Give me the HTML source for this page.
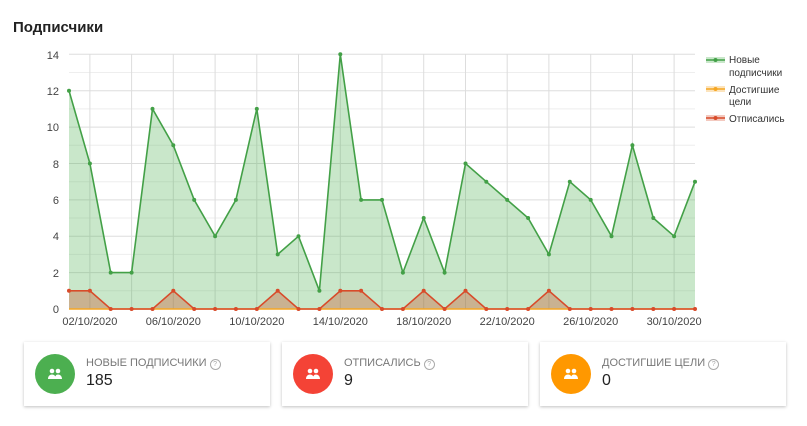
<!DOCTYPE html>
<html><head><meta charset="utf-8"><style>
body{margin:0;width:807px;height:426px;background:#fff;font-family:"Liberation Sans",sans-serif;overflow:hidden;position:relative}
.t{position:absolute;left:13px;top:19px;font-size:15px;font-weight:bold;color:#222}
.card{position:absolute;top:342px;width:246px;height:64px;background:#fff;box-shadow:0 1px 3px rgba(0,0,0,.25)}
.c{position:absolute;left:11px;top:12px;width:40px;height:40px;border-radius:50%}
.c svg{position:absolute;left:12px;top:12px}
.l{position:absolute;left:62px;top:15px;font-size:11px;color:#777}
.l span{display:inline-block;width:9px;height:9px;border:1px solid #aaa;border-radius:50%;font-size:7px;text-align:center;line-height:9px;margin-left:3px;color:#aaa;vertical-align:0}
.v{position:absolute;left:62px;top:30px;font-size:16px;color:#222}
</style></head><body>
<div class="t">Подписчики</div>
<svg width="807" height="330" style="position:absolute;left:0;top:0" font-family="Liberation Sans, sans-serif">
<g stroke="#eee" stroke-width="1">
<line x1="69" x2="695" y1="290.8" y2="290.8"/><line x1="69" x2="695" y1="254.4" y2="254.4"/><line x1="69" x2="695" y1="218" y2="218"/><line x1="69" x2="695" y1="181.7" y2="181.7"/><line x1="69" x2="695" y1="145.3" y2="145.3"/><line x1="69" x2="695" y1="108.9" y2="108.9"/><line x1="69" x2="695" y1="72.5" y2="72.5"/>
</g>
<g stroke="#ddd" stroke-width="1">
<line x1="69" x2="695" y1="272.6" y2="272.6"/><line x1="69" x2="695" y1="236.2" y2="236.2"/><line x1="69" x2="695" y1="199.9" y2="199.9"/><line x1="69" x2="695" y1="163.5" y2="163.5"/><line x1="69" x2="695" y1="127.1" y2="127.1"/><line x1="69" x2="695" y1="90.7" y2="90.7"/><line x1="69" x2="695" y1="54.3" y2="54.3"/>
<line x1="89.9" x2="89.9" y1="54" y2="309"/><line x1="131.6" x2="131.6" y1="54" y2="309"/><line x1="173.3" x2="173.3" y1="54" y2="309"/><line x1="215.1" x2="215.1" y1="54" y2="309"/><line x1="256.8" x2="256.8" y1="54" y2="309"/><line x1="298.5" x2="298.5" y1="54" y2="309"/><line x1="340.3" x2="340.3" y1="54" y2="309"/><line x1="382" x2="382" y1="54" y2="309"/><line x1="423.7" x2="423.7" y1="54" y2="309"/><line x1="465.5" x2="465.5" y1="54" y2="309"/><line x1="507.2" x2="507.2" y1="54" y2="309"/><line x1="548.9" x2="548.9" y1="54" y2="309"/><line x1="590.7" x2="590.7" y1="54" y2="309"/><line x1="632.4" x2="632.4" y1="54" y2="309"/><line x1="674.1" x2="674.1" y1="54" y2="309"/>
</g>
<polygon fill="rgba(76,175,80,0.3)" points="69,309 69,90.7 89.9,163.5 110.7,272.6 131.6,272.6 152.5,108.9 173.3,145.3 194.2,199.9 215.1,236.2 235.9,199.9 256.8,108.9 277.7,254.4 298.5,236.2 319.4,290.8 340.3,54.3 361.1,199.9 382,199.9 402.9,272.6 423.7,218 444.6,272.6 465.5,163.5 486.3,181.7 507.2,199.9 528.1,218 548.9,254.4 569.8,181.7 590.7,199.9 611.5,236.2 632.4,145.3 653.3,218 674.1,236.2 695,181.7 695,309"/>
<polygon fill="rgba(200,80,40,0.35)" points="69,309 69,290.8 89.9,290.8 110.7,309 152.5,309 173.3,290.8 194.2,309 256.8,309 277.7,290.8 298.5,309 319.4,309 340.3,290.8 361.1,290.8 382,309 402.9,309 423.7,290.8 444.6,309 465.5,290.8 486.3,309 528.1,309 548.9,290.8 569.8,309"/>
<polyline fill="none" stroke="#43a047" stroke-width="1.6" points="69,90.7 89.9,163.5 110.7,272.6 131.6,272.6 152.5,108.9 173.3,145.3 194.2,199.9 215.1,236.2 235.9,199.9 256.8,108.9 277.7,254.4 298.5,236.2 319.4,290.8 340.3,54.3 361.1,199.9 382,199.9 402.9,272.6 423.7,218 444.6,272.6 465.5,163.5 486.3,181.7 507.2,199.9 528.1,218 548.9,254.4 569.8,181.7 590.7,199.9 611.5,236.2 632.4,145.3 653.3,218 674.1,236.2 695,181.7"/>
<line x1="69" x2="695" y1="309" y2="309" stroke="#f5a623" stroke-width="1.6"/>
<polyline fill="none" stroke="#d84b2a" stroke-width="1.6" points="69,290.8 89.9,290.8 110.7,309 152.5,309 173.3,290.8 194.2,309 256.8,309 277.7,290.8 298.5,309 319.4,309 340.3,290.8 361.1,290.8 382,309 402.9,309 423.7,290.8 444.6,309 465.5,290.8 486.3,309 528.1,309 548.9,290.8 569.8,309 695,309"/>
<g fill="#43a047">
<circle cx="69" cy="90.7" r="2"/><circle cx="89.9" cy="163.5" r="2"/><circle cx="110.7" cy="272.6" r="2"/><circle cx="131.6" cy="272.6" r="2"/><circle cx="152.5" cy="108.9" r="2"/><circle cx="173.3" cy="145.3" r="2"/><circle cx="194.2" cy="199.9" r="2"/><circle cx="215.1" cy="236.2" r="2"/><circle cx="235.9" cy="199.9" r="2"/><circle cx="256.8" cy="108.9" r="2"/><circle cx="277.7" cy="254.4" r="2"/><circle cx="298.5" cy="236.2" r="2"/><circle cx="319.4" cy="290.8" r="2"/><circle cx="340.3" cy="54.3" r="2"/><circle cx="361.1" cy="199.9" r="2"/><circle cx="382" cy="199.9" r="2"/><circle cx="402.9" cy="272.6" r="2"/><circle cx="423.7" cy="218" r="2"/><circle cx="444.6" cy="272.6" r="2"/><circle cx="465.5" cy="163.5" r="2"/><circle cx="486.3" cy="181.7" r="2"/><circle cx="507.2" cy="199.9" r="2"/><circle cx="528.1" cy="218" r="2"/><circle cx="548.9" cy="254.4" r="2"/><circle cx="569.8" cy="181.7" r="2"/><circle cx="590.7" cy="199.9" r="2"/><circle cx="611.5" cy="236.2" r="2"/><circle cx="632.4" cy="145.3" r="2"/><circle cx="653.3" cy="218" r="2"/><circle cx="674.1" cy="236.2" r="2"/><circle cx="695" cy="181.7" r="2"/>
</g>
<g fill="#d84b2a">
<circle cx="69" cy="290.8" r="2"/><circle cx="89.9" cy="290.8" r="2"/><circle cx="110.7" cy="309" r="2"/><circle cx="131.6" cy="309" r="2"/><circle cx="152.5" cy="309" r="2"/><circle cx="173.3" cy="290.8" r="2"/><circle cx="194.2" cy="309" r="2"/><circle cx="215.1" cy="309" r="2"/><circle cx="235.9" cy="309" r="2"/><circle cx="256.8" cy="309" r="2"/><circle cx="277.7" cy="290.8" r="2"/><circle cx="298.5" cy="309" r="2"/><circle cx="319.4" cy="309" r="2"/><circle cx="340.3" cy="290.8" r="2"/><circle cx="361.1" cy="290.8" r="2"/><circle cx="382" cy="309" r="2"/><circle cx="402.9" cy="309" r="2"/><circle cx="423.7" cy="290.8" r="2"/><circle cx="444.6" cy="309" r="2"/><circle cx="465.5" cy="290.8" r="2"/><circle cx="486.3" cy="309" r="2"/><circle cx="507.2" cy="309" r="2"/><circle cx="528.1" cy="309" r="2"/><circle cx="548.9" cy="290.8" r="2"/><circle cx="569.8" cy="309" r="2"/><circle cx="590.7" cy="309" r="2"/><circle cx="611.5" cy="309" r="2"/><circle cx="632.4" cy="309" r="2"/><circle cx="653.3" cy="309" r="2"/><circle cx="674.1" cy="309" r="2"/><circle cx="695" cy="309" r="2"/>
</g>
<g font-size="11" fill="#444" text-anchor="end">
<text x="59" y="313">0</text><text x="59" y="277">2</text><text x="59" y="240">4</text><text x="59" y="204">6</text><text x="59" y="168">8</text><text x="59" y="131">10</text><text x="59" y="95">12</text><text x="59" y="59">14</text>
</g>
<g font-size="11" fill="#444" text-anchor="middle">
<text x="89.9" y="325">02/10/2020</text><text x="173.3" y="325">06/10/2020</text><text x="256.8" y="325">10/10/2020</text><text x="340.3" y="325">14/10/2020</text><text x="423.7" y="325">18/10/2020</text><text x="507.2" y="325">22/10/2020</text><text x="590.7" y="325">26/10/2020</text><text x="674.1" y="325">30/10/2020</text>
</g>
<g font-size="10" fill="#333">
<rect x="706" y="57" width="19" height="6" fill="rgba(76,175,80,0.3)"/><line x1="706" x2="725" y1="60" y2="60" stroke="#43a047" stroke-width="1.5"/><circle cx="715.5" cy="60" r="2" fill="#43a047"/>
<text x="729" y="63">Новые</text><text x="729" y="76">подписчики</text>
<rect x="706" y="86" width="19" height="6" fill="rgba(245,166,35,0.3)"/><line x1="706" x2="725" y1="89" y2="89" stroke="#f5a623" stroke-width="1.5"/><circle cx="715.5" cy="89" r="2" fill="#f5a623"/>
<text x="729" y="93">Достигшие</text><text x="729" y="105">цели</text>
<rect x="706" y="115" width="19" height="6" fill="rgba(216,75,42,0.3)"/><line x1="706" x2="725" y1="118" y2="118" stroke="#d84b2a" stroke-width="1.5"/><circle cx="715.5" cy="118" r="2" fill="#d84b2a"/>
<text x="729" y="122">Отписались</text>
</g>
</svg>
<div class="card" style="left:24px"><div class="c" style="background:#4caf50"><svg width="16" height="16" viewBox="0 0 16 16" fill="#fff"><circle cx="5" cy="5" r="2.3"/><circle cx="11" cy="5" r="2.3"/><path d="M1 13c0-3 2-4.5 4-4.5s4 1.5 4 4.5zM8 13c0-3 1-4.5 3-4.5s4 1.5 4 4.5z"/></svg></div><div class="l">НОВЫЕ ПОДПИСЧИКИ<span>?</span></div><div class="v">185</div></div>
<div class="card" style="left:282px"><div class="c" style="background:#f44336"><svg width="16" height="16" viewBox="0 0 16 16" fill="#fff"><circle cx="5" cy="5" r="2.3"/><circle cx="11" cy="5" r="2.3"/><path d="M1 13c0-3 2-4.5 4-4.5s4 1.5 4 4.5zM8 13c0-3 1-4.5 3-4.5s4 1.5 4 4.5z"/></svg></div><div class="l">ОТПИСАЛИСЬ<span>?</span></div><div class="v">9</div></div>
<div class="card" style="left:540px"><div class="c" style="background:#ff9800"><svg width="16" height="16" viewBox="0 0 16 16" fill="#fff"><circle cx="5" cy="5" r="2.3"/><circle cx="11" cy="5" r="2.3"/><path d="M1 13c0-3 2-4.5 4-4.5s4 1.5 4 4.5zM8 13c0-3 1-4.5 3-4.5s4 1.5 4 4.5z"/></svg></div><div class="l">ДОСТИГШИЕ ЦЕЛИ<span>?</span></div><div class="v">0</div></div>
</body></html>
